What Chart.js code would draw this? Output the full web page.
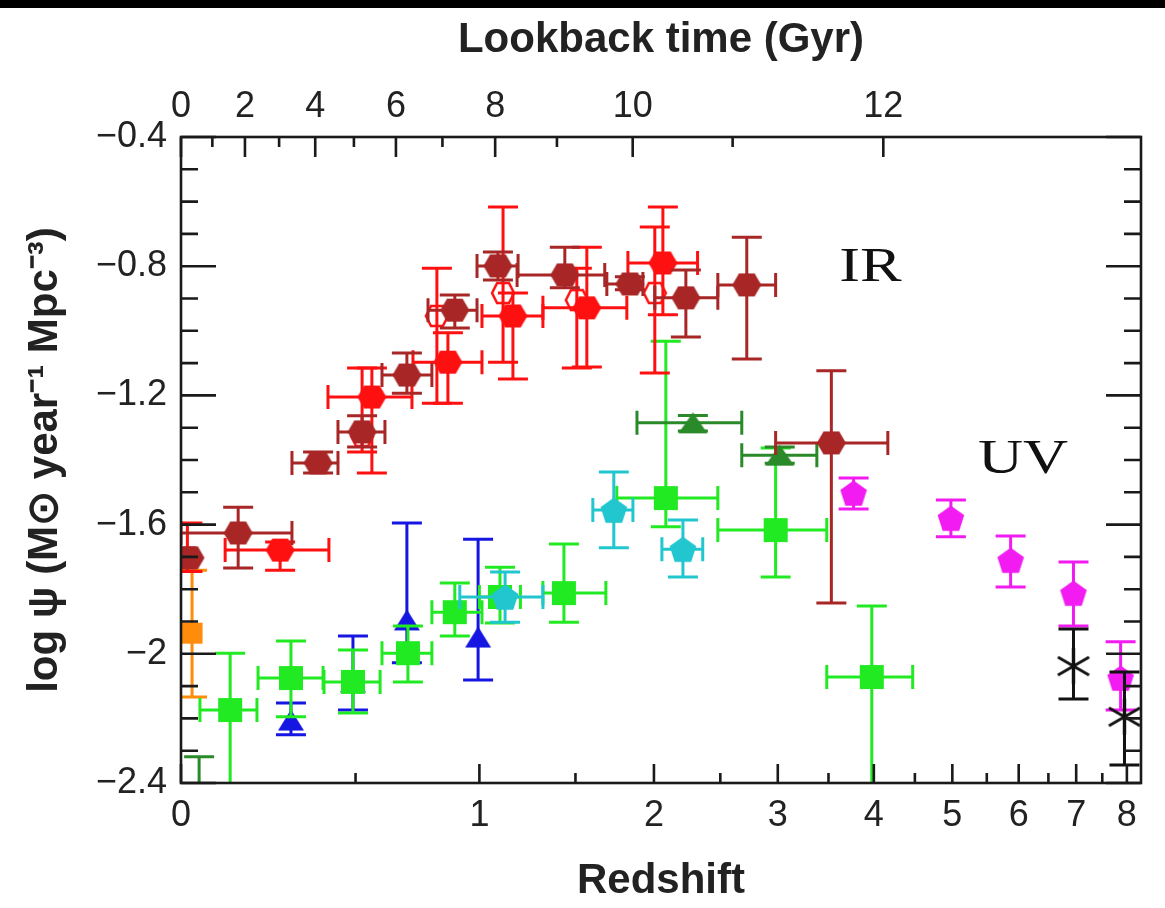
<!DOCTYPE html>
<html><head><meta charset="utf-8">
<script src="https://cdn.jsdelivr.net/npm/chart.js@4.4.1/dist/chart.umd.min.js"></script>
<style>
html,body{margin:0;padding:0;background:#fff;overflow:hidden}
#wrap{position:relative;width:1165px;height:908px}
#band{position:absolute;left:0;top:0;width:1165px;height:8px;background:#000}
</style></head>
<body><div id="wrap"><canvas id="c" width="1165" height="908"></canvas><div id="band"></div></div>
<script>
// ---------- data: rows are [z, log psi, zLo, zHi, psiLo, psiHi] ----------
const irDarkRed = [
  [0.021, -1.703, null, null, null, null],
  [0.142, -1.626, 0.000, 0.294, -1.734, -1.546],
  [0.375, -1.409, 0.294, 0.440, -1.440, -1.375],
  [0.523, -1.313, 0.440, 0.606, -1.360, -1.263],
  [0.690, -1.137, 0.595, 0.791, -1.193, -1.069],
  [0.889, -0.936, 0.775, 0.989, -0.991, -0.889],
  [1.088, -0.799, 0.989, 1.188, -0.843, -0.756],
  [1.439, -0.827, 1.183, 1.676, -0.867, -0.741],
  [1.837, -0.855, 1.689, 1.924, -0.873, -0.833],
  [2.231, -0.898, 2.006, 2.480, -1.019, -0.812],
  [2.722, -0.858, 2.480, 2.980, -1.087, -0.710],
  [3.530, -1.347, 2.980, 4.165, -1.843, -1.124]
];
const irRed = [
  [0.015, -1.703, null, null, -1.745, -1.595],
  [0.259, -1.679, 0.108, 0.410, -1.741, -1.654],
  [0.558, -1.205, 0.407, 0.710, -1.440, -1.115],
  [0.859, -1.097, 0.714, 1.012, -1.224, -1.006],
  [1.162, -0.954, 1.012, 1.318, -1.149, -0.883],
  [1.567, -0.929, 1.318, 1.817, -1.112, -0.741],
  [2.063, -0.790, 1.824, 2.320, -0.950, -0.617]
];
const irRedOpen = [
  [0.523, -1.326, null, null, -1.375, -1.115],
  [0.812, -0.954, null, null, -1.224, -0.806],
  [1.113, -0.883, null, null, -1.097, -0.617],
  [1.508, -0.905, null, null, -1.115, -0.806],
  [2.006, -0.883, null, null, -1.131, -0.679]
];
const darkGreenTri = [
  [2.284, -1.285, 1.884, 2.679, -1.310, -1.262],
  [3.018, -1.385, 2.679, 3.380, -1.410, -1.360],
  [0.043, -2.440, null, null, null, -2.319]
];
const greenSquares = [
  [0.121, -2.174, 0.045, 0.193, -2.500, -1.998],
  [0.291, -2.075, 0.196, 0.391, -2.195, -1.960],
  [0.491, -2.087, 0.394, 0.588, -2.183, -1.988],
  [0.694, -1.998, 0.595, 0.791, -2.087, -1.914],
  [0.889, -1.871, 0.791, 1.012, -1.945, -1.781],
  [1.098, -1.824, 1.000, 1.200, -1.905, -1.732],
  [1.434, -1.812, 1.318, 1.683, -1.902, -1.660],
  [2.084, -1.518, 1.752, 2.480, -1.607, -1.032],
  [2.980, -1.617, 2.480, 3.482, -1.762, -1.363],
  [3.976, -2.072, 3.482, 4.472, -2.600, -1.852]
];
const cyanPent = [
  [1.123, -1.824, 0.911, 1.318, -1.902, -1.747],
  [1.733, -1.555, 1.603, 1.857, -1.672, -1.437],
  [2.209, -1.676, 2.056, 2.360, -1.762, -1.586]
];
const blueTri = [
  [0.291, -2.205, null, null, -2.251, -2.152],
  [0.491, -2.087, null, null, -2.174, -1.945],
  [0.690, -1.895, null, null, -2.028, -1.595],
  [0.994, -1.948, null, null, -2.081, -1.645]
];
const magentaPent = [
  [3.77, -1.502, null, null, -1.552, -1.456],
  [4.98, -1.580, null, null, -1.638, -1.524],
  [5.87, -1.710, null, null, -1.793, -1.635],
  [6.95, -1.812, null, null, -1.914, -1.716],
  [7.87, -2.075, null, null, -2.174, -1.963]
];
const blackStars = [
  [6.95, -2.038, null, null, -2.140, -1.923],
  [7.95, -2.195, null, null, -2.344, -2.056]
];
const orangeSquare = [
  [0.026, -1.936, null, null, -2.134, -1.741]
];
// axis ticks
const zTicks = [0,0.5,1,1.5,2,2.5,3,3.5,4,4.5,5,5.5,6,6.5,7,7.5,8];
const lookbackTicks = [0,1,2,3,4,5,6,7,8,9,10,11,12];
const yTicks = [-0.4,-0.5,-0.6,-0.7,-0.8,-0.9,-1.0,-1.1,-1.2,-1.3,-1.4,-1.5,-1.6,-1.7,-1.8,-1.9,-2.0,-2.1,-2.2,-2.3,-2.4];
const yMajorLabels = {'-0.4':'\u22120.4','-0.8':'\u22120.8','-1.2':'\u22121.2','-1.6':'\u22121.6','-2':'\u22122','-2.4':'\u22122.4'};
const annotations = [ {text:'IR', z:3.96, y:-0.806}, {text:'UV', z:6.07, y:-1.40} ];
const zMax = 8.3;

// lookback time for flat LCDM (H0=70, Om=0.3): invert t_L(z)
const H0 = 70, Om = 0.3, OL = 0.7;
const Tcos = 977.8 / H0 * 2 / (3 * Math.sqrt(OL)), aCos = Math.sqrt(OL / Om);
function zAtLookback(t) { return Math.pow(aCos / Math.sinh(Math.asinh(aCos) - t / Tcos), 2 / 3) - 1; }

// ---------- custom log(1+z) scale ----------
class RedshiftScale extends Chart.LinearScale {
  getPixelForValue(v) {
    const a = Math.log10(1 + this.min), b = Math.log10(1 + this.max);
    return this.getPixelForDecimal((Math.log10(1 + v) - a) / (b - a));
  }
  getValueForPixel(p) {
    const a = Math.log10(1 + this.min), b = Math.log10(1 + this.max);
    return Math.pow(10, a + this.getDecimalForPixel(p) * (b - a)) - 1;
  }
}
RedshiftScale.id = 'redshift';
RedshiftScale.defaults = Chart.LinearScale.defaults;
Chart.register(RedshiftScale);

// ---------- marker images ----------
function mk(w, h, draw) {
  const c = document.createElement('canvas'); c.width = w; c.height = h;
  const g = c.getContext('2d'); g.translate(w / 2, h / 2); draw(g); return c;
}
function hex(color, w, h, fill) {
  return mk(w + 4, h + 4, g => {
    g.beginPath();
    g.moveTo(-w / 2, 0); g.lineTo(-w * 0.27, -h / 2); g.lineTo(w * 0.27, -h / 2);
    g.lineTo(w / 2, 0); g.lineTo(w * 0.27, h / 2); g.lineTo(-w * 0.27, h / 2); g.closePath();
    if (fill) { g.fillStyle = color; g.fill(); } else { g.strokeStyle = color; g.lineWidth = 2.5; g.stroke(); }
  });
}
function pent(color, r) {
  return mk(2 * r + 4, 2 * r + 4, g => {
    g.beginPath();
    for (let k = 0; k < 5; k++) { const a = -Math.PI / 2 + k * 2 * Math.PI / 5; g.lineTo(r * Math.cos(a), r * Math.sin(a) + r * 0.1); }
    g.closePath(); g.fillStyle = color; g.fill();
  });
}
function tri(color, w, h) {
  return mk(w + 4, h + 4, g => {
    g.beginPath(); g.moveTo(0, -h / 2); g.lineTo(w / 2, h / 2); g.lineTo(-w / 2, h / 2); g.closePath();
    g.fillStyle = color; g.fill();
  });
}
function sq(color, s) { return mk(s + 2, s + 2, g => { g.fillStyle = color; g.fillRect(-s / 2, -s / 2, s, s); }); }
function star(color, r) {
  return mk(2 * r + 4, 2 * r + 4, g => {
    g.strokeStyle = color; g.lineWidth = 2.8; g.beginPath();
    [90, 30, 150].forEach(d => { const a = d * Math.PI / 180; g.moveTo(-r * Math.cos(a), -r * Math.sin(a)); g.lineTo(r * Math.cos(a), r * Math.sin(a)); });
    g.stroke();
  });
}

const C = {
  darkred: '#A82626', red: '#FF1010', dkgreen: '#2A8A2A', green: '#22EA22',
  cyan: '#22C6CF', blue: '#1616E2', magenta: '#F21CF2', black: '#111111', orange: '#FF8C0A'
};

function series(label, rows, img, errColor) {
  return {
    label, rows, errColor, xAxisID: 'x', yAxisID: 'y',
    data: rows.map(r => ({ x: r[0], y: r[1] })),
    pointStyle: img, pointRadius: 12, borderWidth: 0, clip: 0
  };
}

// first dataset is drawn on top
const datasets = [
  series('IR dark', irDarkRed, hex(C.darkred, 29, 23, true), C.darkred),
  series('IR red', irRed, hex(C.red, 29, 23, true), C.red),
  series('IR open', irRedOpen, hex(C.red, 22, 20, false), C.red),
  series('dkgreen', darkGreenTri, tri(C.dkgreen, 29, 21), C.dkgreen),
  series('black', blackStars, star(C.black, 18), C.black),
  series('magenta', magentaPent, pent(C.magenta, 14), C.magenta),
  series('cyan', cyanPent, pent(C.cyan, 14), C.cyan),
  series('green', greenSquares, sq(C.green, 24), C.green),
  series('blue', blueTri, tri(C.blue, 26, 21), C.blue),
  series('orange', orangeSquare, sq(C.orange, 21), C.orange)
];

// ---------- plugins ----------
const errPlugin = {
  id: 'errbars',
  beforeDatasetDraw(chart, args) {
    const ds = chart.data.datasets[args.index]; if (!ds.rows) return;
    const xs = chart.scales.x, ys = chart.scales.y, a = chart.chartArea, ctx = chart.ctx;
    const capW = 15, capH = 12;
    ctx.save();
    ctx.beginPath(); ctx.rect(a.left, a.top, a.right - a.left, a.bottom - a.top); ctx.clip();
    ctx.strokeStyle = ds.errColor; ctx.lineWidth = 3;
    for (const r of ds.rows) {
      const px = xs.getPixelForValue(r[0]), py = ys.getPixelForValue(r[1]);
      ctx.beginPath();
      if (r[2] != null) { const x1 = xs.getPixelForValue(r[2]); ctx.moveTo(px, py); ctx.lineTo(x1, py); ctx.moveTo(x1, py - capH); ctx.lineTo(x1, py + capH); }
      if (r[3] != null) { const x2 = xs.getPixelForValue(r[3]); ctx.moveTo(px, py); ctx.lineTo(x2, py); ctx.moveTo(x2, py - capH); ctx.lineTo(x2, py + capH); }
      if (r[4] != null) { const y1 = ys.getPixelForValue(r[4]); ctx.moveTo(px, py); ctx.lineTo(px, y1); ctx.moveTo(px - capW, y1); ctx.lineTo(px + capW, y1); }
      if (r[5] != null) { const y2 = ys.getPixelForValue(r[5]); ctx.moveTo(px, py); ctx.lineTo(px, y2); ctx.moveTo(px - capW, y2); ctx.lineTo(px + capW, y2); }
      ctx.stroke();
    }
    ctx.restore();
  }
};

const framePlugin = {
  id: 'frame',
  afterDraw(chart) {
    const ctx = chart.ctx, a = chart.chartArea;
    const xs = chart.scales.x, xt = chart.scales.x2, ys = chart.scales.y;
    ctx.save();
    ctx.strokeStyle = '#1a1a1a'; ctx.lineWidth = 2.6;
    ctx.beginPath();
    xs.ticks.forEach(t => { const p = xs.getPixelForValue(t.value); const L = Number.isInteger(t.value) ? 19 : 10; ctx.moveTo(p, a.bottom); ctx.lineTo(p, a.bottom - L); });
    xt.ticks.forEach(t => { const p = xt.getPixelForValue(t.value); const L = t.major ? 20 : 10; ctx.moveTo(p, a.top); ctx.lineTo(p, a.top + L); });
    ys.ticks.forEach(t => { const p = ys.getPixelForValue(t.value); const L = t.major ? 35 : 17;
      ctx.moveTo(a.left, p); ctx.lineTo(a.left + L, p); ctx.moveTo(a.right, p); ctx.lineTo(a.right - L, p); });
    ctx.stroke();
    ctx.strokeRect(a.left, a.top, a.right - a.left, a.bottom - a.top);
    ctx.restore();
  }
};

const textPlugin = {
  id: 'annot',
  afterDatasetsDraw(chart) {
    const ctx = chart.ctx, xs = chart.scales.x, ys = chart.scales.y;
    ctx.save();
    ctx.fillStyle = '#111'; ctx.font = '48px "Liberation Serif", "DejaVu Serif", serif';
    ctx.textAlign = 'center'; ctx.textBaseline = 'middle';
    annotations.forEach(an => {
      const px = xs.getPixelForValue(an.z), py = ys.getPixelForValue(an.y);
      ctx.save(); ctx.translate(px, py); ctx.scale(1.3, 1); ctx.fillText(an.text, 0, 0); ctx.restore();
    });
    ctx.restore();
  }
};

const tickFont = { family: '"Liberation Sans", Arial, sans-serif', size: 36 };
const titleFont = { family: '"Liberation Sans", Arial, sans-serif', size: 42, weight: 'bold' };

new Chart(document.getElementById('c'), {
  type: 'scatter',
  data: { datasets },
  options: {
    responsive: false, animation: false, devicePixelRatio: 1,
    layout: { padding: { left: 0, right: 24, top: 0, bottom: 0 } },
    plugins: { legend: { display: false }, tooltip: { enabled: false } },
    scales: {
      x: {
        type: 'redshift', position: 'bottom', min: 0, max: zMax, bounds: 'data',
        grid: { display: false }, border: { display: false },
        afterBuildTicks: s => { s.ticks = zTicks.map(v => ({ value: v, major: Number.isInteger(v) })); },
        ticks: { autoSkip: false, maxRotation: 0, padding: 3, color: '#222', font: tickFont,
          callback: v => Number.isInteger(v) ? String(v) : '' },
        title: { display: true, text: 'Redshift', color: '#222', font: titleFont, padding: { top: 0, bottom: 1 } },
        afterFit: s => { s.height = 125; }
      },
      x2: {
        type: 'redshift', position: 'top', min: 0, max: zMax, bounds: 'data',
        grid: { display: false }, border: { display: false },
        afterBuildTicks: s => { s.ticks = lookbackTicks.map(t => ({ value: zAtLookback(t), major: t % 2 === 0 })); },
        ticks: { autoSkip: false, maxRotation: 0, padding: 0, color: '#222', font: tickFont,
          callback: (v, i) => lookbackTicks[i] % 2 === 0 ? String(lookbackTicks[i]) : '' },
        title: { display: true, text: 'Lookback time (Gyr)', color: '#222', font: titleFont, padding: { top: 15, bottom: 0 } },
        afterFit: s => { s.height = 137; }
      },
      y: {
        type: 'linear', position: 'left', min: -2.4, max: -0.4,
        grid: { display: false }, border: { display: false },
        afterBuildTicks: s => { s.ticks = yTicks.map(v => ({ value: v, major: yMajorLabels[String(v)] !== undefined })); },
        ticks: { autoSkip: false, padding: 6, color: '#222', font: tickFont,
          callback: v => { const k = String(Math.round(v * 10) / 10); return yMajorLabels[k] || ''; } },
        title: { display: true, text: 'log \u03C8 (M\u2299 year\u207B\u00B9 Mpc\u207B\u00B3)', color: '#222', font: { family: '"Liberation Sans", Arial, sans-serif', size: 42, weight: 'bold' }, padding: { top: 20, bottom: 0 } },
        afterFit: s => { s.width = 181; }
      }
    }
  },
  plugins: [errPlugin, framePlugin, textPlugin]
});
</script>
</body></html>
